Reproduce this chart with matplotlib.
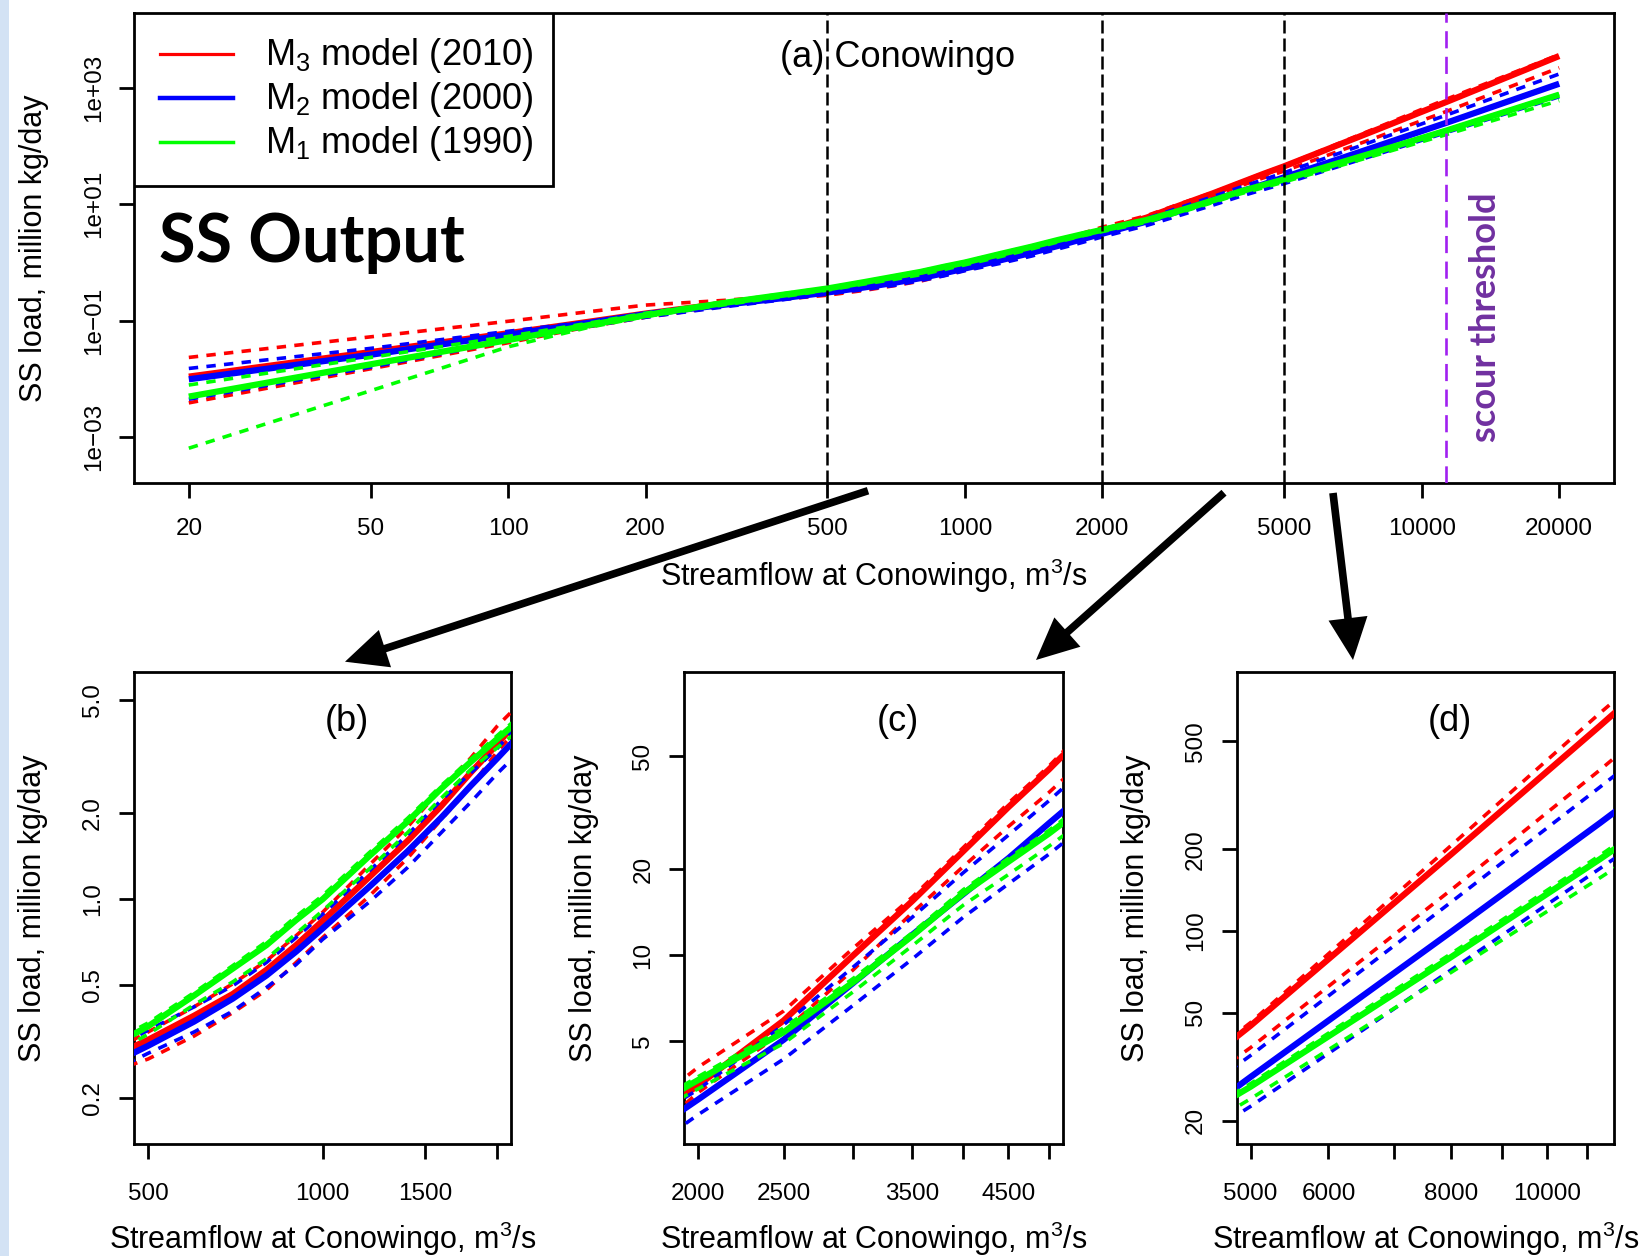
import math
import matplotlib
matplotlib.use('Agg')
import matplotlib.pyplot as plt
from matplotlib.patches import Rectangle, FancyArrowPatch, ArrowStyle
from matplotlib.lines import Line2D
from matplotlib.ticker import FixedLocator, FixedFormatter, NullLocator, NullFormatter

plt.rcParams['font.family'] = ['Liberation Sans', 'DejaVu Sans']
plt.rcParams['mathtext.fontset'] = 'custom'
plt.rcParams['mathtext.rm'] = 'Liberation Sans'
plt.rcParams['mathtext.it'] = 'Liberation Sans:italic'
plt.rcParams['mathtext.bf'] = 'Liberation Sans:bold'

# ---------------- data (streamflow m3/s, SS load million kg/day) ----------------
flow = [20, 50, 100, 150, 200, 300, 400, 500, 600, 700, 800, 900, 1000, 1200, 1400,
        1600, 1800, 2000, 2500, 3000, 3500, 4000, 4500, 5000, 8000, 11327, 20000]

m3_fit = [0.011, 0.029, 0.061, 0.096, 0.133, 0.200, 0.260, 0.321, 0.390, 0.465, 0.565, 0.690, 0.840,
          1.19, 1.60, 2.12, 2.78, 3.50, 5.9, 10.0, 15.5, 23.2, 33.1, 44.8, 192, 570, 3500]
m3_upper = [0.0235, 0.053, 0.098, 0.143, 0.186, 0.225, 0.270, 0.342, 0.419, 0.505, 0.608, 0.745, 0.900,
            1.31, 1.79, 2.44, 3.13, 4.05, 6.37, 10.6, 16.0, 23.9, 34.2, 46.0, 207, 635, 3700]
m3_lower = [0.0039, 0.015, 0.042, 0.079, 0.115, 0.180, 0.235, 0.275, 0.331, 0.400, 0.480, 0.600, 0.734,
            1.02, 1.39, 1.90, 2.48, 3.30, 5.4, 8.9, 14.1, 20.5, 28.3, 37.2, 142, 392, 2200]

m2_fit = [0.0099, 0.0261, 0.0576, 0.092, 0.130, 0.190, 0.245, 0.306, 0.372, 0.448, 0.540, 0.655, 0.790,
          1.10, 1.47, 1.93, 2.50, 3.12, 5.05, 8.0, 11.8, 16.4, 21.9, 29.0, 99.5, 250, 1170]
m2_upper = [0.0152, 0.0336, 0.066, 0.096, 0.135, 0.200, 0.270, 0.347, 0.419, 0.497, 0.600, 0.734, 0.885,
            1.25, 1.68, 2.22, 2.77, 3.38, 5.7, 9.1, 13.6, 19.5, 26.4, 34.8, 128, 339, 1720]
m2_lower = [0.0045, 0.016, 0.045, 0.080, 0.115, 0.175, 0.230, 0.288, 0.342, 0.405, 0.490, 0.590, 0.723,
            0.973, 1.29, 1.71, 2.19, 2.76, 4.32, 6.68, 9.7, 13.6, 17.8, 22.6, 72.0, 170, 700]

m1_fit = [0.0050, 0.0179, 0.0467, 0.084, 0.125, 0.205, 0.280, 0.358, 0.459, 0.571, 0.690, 0.845, 1.00,
          1.41, 1.87, 2.44, 3.03, 3.65, 5.37, 8.05, 11.7, 16.5, 21.3, 26.7, 80.3, 184, 760]
m1_upper = [0.0079, 0.0235, 0.054, 0.091, 0.135, 0.212, 0.290, 0.368, 0.470, 0.585, 0.710, 0.870, 1.03,
            1.45, 1.92, 2.50, 3.10, 3.75, 5.55, 8.3, 12.0, 17.0, 21.9, 27.4, 82.7, 190, 780]
m1_lower = [0.00065, 0.0063, 0.0357, 0.077, 0.118, 0.190, 0.260, 0.336, 0.426, 0.513, 0.618, 0.757, 0.912,
            1.27, 1.71, 2.26, 2.85, 3.40, 4.9, 7.45, 10.8, 15.0, 19.2, 24.1, 70.5, 157, 600]

legend_labels = [r'M$_\mathregular{3}$ model (2010)', r'M$_\mathregular{2}$ model (2000)',
                 r'M$_\mathregular{1}$ model (1990)']
colors = ['#FF0000', '#0000FF', '#00FF00']

ref_flows = [500, 2000, 5000]
scour_flow = 11327

xA_ticks = [20, 50, 100, 200, 500, 1000, 2000, 5000, 10000, 20000]
yA_ticks = [1e-3, 1e-1, 1e1, 1e3]
yA_labels = ['1e\u221203', '1e\u221201', '1e+01', '1e+03']

xB_ticks = [500, 1000, 1500, 2000]
xB_labels = ['500', '1000', '1500', '']
yB_ticks = [0.2, 0.5, 1.0, 2.0, 5.0]
yB_labels = ['0.2', '0.5', '1.0', '2.0', '5.0']

xC_ticks = [2000, 2500, 3000, 3500, 4000, 4500, 5000]
xC_labels = ['2000', '2500', '', '3500', '', '4500', '']
yC_ticks = [5, 10, 20, 50]
yC_labels = ['5', '10', '20', '50']

xD_ticks = [5000, 6000, 7000, 8000, 9000, 10000, 11000]
xD_labels = ['5000', '6000', '', '8000', '', '10000', '']
yD_ticks = [20, 50, 100, 200, 500]
yD_labels = ['20', '50', '100', '200', '500']

# ---------------- figure ----------------
W, H = 1643, 1256
fig = plt.figure(figsize=(W / 100, H / 100), dpi=100)
fig.patch.set_facecolor('white')


def box(l, t, r, b):
    return [l / W, 1 - b / H, (r - l) / W, (b - t) / H]


def fx(px):
    return px / W


def fy(py):
    return 1 - py / H


fig.add_artist(Rectangle((0, 0), 9 / W, 1, transform=fig.transFigure,
                         facecolor='#D3E2F4', edgecolor='none', zorder=0))

axA = fig.add_axes(box(134, 12.6, 1614, 483))
axB = fig.add_axes(box(134.1, 671.8, 511.4, 1144.4))
axC = fig.add_axes(box(684.3, 671.8, 1062.7, 1144.4))
axD = fig.add_axes(box(1236.6, 671.8, 1613.9, 1144.4))

series = [(m3_fit, m3_upper, m3_lower), (m2_fit, m2_upper, m2_lower), (m1_fit, m1_upper, m1_lower)]


def draw_curves(ax):
    for (fit, up, lo), col in zip(series, colors):
        ax.plot(flow, fit, color=col, lw=4.5, solid_capstyle='butt', solid_joinstyle='round', zorder=3)
        ax.plot(flow, up, color=col, lw=2.6, ls=(0, (2.6, 2.3)), zorder=3)
        ax.plot(flow, lo, color=col, lw=2.6, ls=(0, (2.6, 2.3)), zorder=3)


def rlim(lo, hi):
    a, b = math.log10(lo), math.log10(hi)
    d = 0.04 * (b - a)
    return 10 ** (a - d), 10 ** (b + d)


def style(ax, xt, xl, yt, yl, xpad, ypad):
    ax.set_xscale('log')
    ax.set_yscale('log')
    ax.xaxis.set_major_locator(FixedLocator(xt))
    ax.xaxis.set_major_formatter(FixedFormatter(xl))
    ax.yaxis.set_major_locator(FixedLocator(yt))
    ax.yaxis.set_major_formatter(FixedFormatter(yl))
    ax.xaxis.set_minor_locator(NullLocator())
    ax.yaxis.set_minor_locator(NullLocator())
    ax.xaxis.set_minor_formatter(NullFormatter())
    ax.yaxis.set_minor_formatter(NullFormatter())
    for s in ax.spines.values():
        s.set_linewidth(2.0)
    ax.tick_params(axis='x', direction='out', length=11, width=2, labelsize=17.5, pad=xpad)
    ax.tick_params(axis='y', direction='out', length=11, width=2, labelsize=17.5, pad=ypad)
    for lab in ax.get_yticklabels():
        lab.set_rotation(90)
        lab.set_va('center')


# ---- panel (a)
draw_curves(axA)
for f in ref_flows:
    axA.axvline(f, color='black', lw=1.8, ls=(0, (5.2, 2.0)), zorder=4)
axA.axvline(scour_flow, color='#A020F0', lw=1.9, ls=(0, (6.5, 3.2)), zorder=4)
axA.set_xlim(*rlim(20, 20000))
axA.set_ylim(10 ** -3.784, 10 ** 4.289)
style(axA, xA_ticks, [str(v) for v in xA_ticks], yA_ticks, yA_labels, 14.5, 10)

# legend box
axA.add_patch(Rectangle((0, 1 - (185.5 - 12.6) / 470.4), (553 - 134) / 1480, (185.5 - 12.6) / 470.4,
                        transform=axA.transAxes, facecolor='white', edgecolor='black', lw=2.0, zorder=5))
for i, (lab, col) in enumerate(zip(legend_labels, colors)):
    yl = 54.3 + 44 * i
    fig.add_artist(Line2D([fx(160), fx(233)], [fy(yl), fy(yl)], color=col,
                          lw=[2.3, 3.2, 2.5][i], transform=fig.transFigure, zorder=6))
    fig.text(fx(265), fy(65 + 44 * i), lab, fontsize=26, ha='left', va='baseline', zorder=6)

fig.text(fx(898), fy(66.7), '(a) Conowingo', fontsize=26, ha='center', va='baseline')
fig.text(fx(159), fy(261.7), 'SS Output', fontsize=48, fontweight='bold', family='Lato',
         ha='left', va='baseline')
fig.text(fx(1486), fy(316.7), 'scour threshold', fontsize=26, fontweight='bold', family='Lato',
         color='#7030A0', rotation=90, ha='center', va='center')

fig.text(fx(874), fy(586), r'Streamflow at Conowingo, m$^\mathregular{3}$/s', fontsize=22,
         ha='center', va='baseline')
fig.text(fx(34), fy(248), 'SS load, million kg/day', fontsize=22, rotation=90, ha='center', va='center')

# ---- panel (b)
draw_curves(axB)
axB.set_xlim(*rlim(500, 2000))
axB.set_ylim(10 ** -0.86, 10 ** 0.797)
style(axB, xB_ticks, xB_labels, yB_ticks, yB_labels, 16.5, 10.5)
axB.text(0.565, 0.895, '(b)', transform=axB.transAxes, fontsize=26, ha='center', va='center')

# ---- panel (c)
draw_curves(axC)
axC.set_xlim(*rlim(2000, 5000))
axC.set_ylim(10 ** 0.336, 10 ** 1.995)
style(axC, xC_ticks, xC_labels, yC_ticks, yC_labels, 16.5, 10.5)
axC.text(0.565, 0.895, '(c)', transform=axC.transAxes, fontsize=26, ha='center', va='center')

# ---- panel (d)
draw_curves(axD)
axD.set_xlim(*rlim(5000, scour_flow))
axD.set_ylim(10 ** 1.214, 10 ** 2.955)
style(axD, xD_ticks, xD_labels, yD_ticks, yD_labels, 16.5, 10.5)
axD.text(0.565, 0.895, '(d)', transform=axD.transAxes, fontsize=26, ha='center', va='center')

for cx in [322.8, 873.5, 1425.3]:
    fig.text(fx(cx), fy(1249), r'Streamflow at Conowingo, m$^\mathregular{3}$/s', fontsize=22,
             ha='center', va='baseline')
for cx in [33, 584, 1136]:
    fig.text(fx(cx), fy(908), 'SS load, million kg/day', fontsize=22, rotation=90,
             ha='center', va='center')

# ---- arrows
arrows = [((868, 490.7), (345, 661.7)), ((1224, 492.7), (1036, 660)), ((1333, 493), (1353, 660))]
for (x0, y0), (x1, y1) in arrows:
    a = FancyArrowPatch((fx(x0), fy(y0)), (fx(x1), fy(y1)), transform=fig.transFigure,
                        arrowstyle=ArrowStyle('-|>', head_length=0.75, head_width=0.35),
                        mutation_scale=28, lw=5.5, color='black', shrinkA=0, shrinkB=0,
                        joinstyle='miter', capstyle='butt')
    fig.add_artist(a)

fig.savefig('out.png', dpi=100)
